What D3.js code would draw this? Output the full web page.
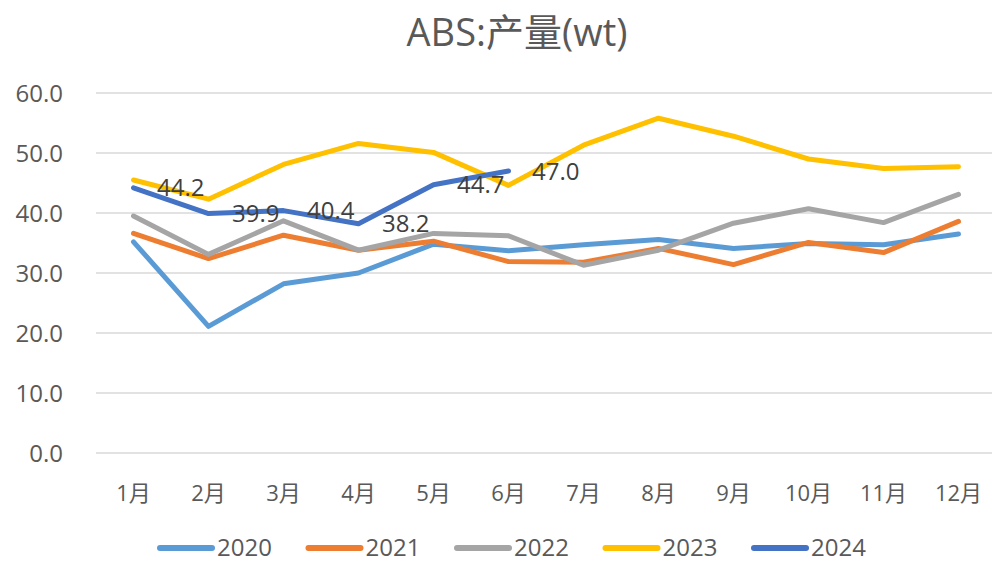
<!DOCTYPE html>
<html><head><meta charset="utf-8">
<script src="https://cdn.jsdelivr.net/npm/d3@7"></script>
<style>
html,body{margin:0;padding:0;background:#fff;}
svg text{font-family:"Open Sans","Noto Sans CJK SC",sans-serif;}
</style></head>
<body><svg id="c" width="992" height="562"></svg>
<script>
const months = ["1月","2月","3月","4月","5月","6月","7月","8月","9月","10月","11月","12月"];
const yTicks = [0,10,20,30,40,50,60];
const years = ["2020","2021","2022","2023","2024"];
const colors = ["#5B9BD5","#ED7D31","#A5A5A5","#FFC000","#4472C4"];
const v2020 = [35.2,21.1,28.2,30.0,34.8,33.7,34.7,35.6,34.1,34.9,34.7,36.5];
const v2021 = [36.6,32.4,36.3,33.8,35.3,31.9,31.8,34.1,31.4,35.1,33.4,38.6];
const v2022 = [39.5,33.1,38.7,33.8,36.6,36.2,31.3,33.8,38.3,40.7,38.4,43.1];
const v2023 = [45.5,42.3,48.1,51.6,50.1,44.6,51.3,55.8,52.8,49.0,47.4,47.7];
const v2024 = [44.2,39.9,40.4,38.2,44.7,47.0];
const series = [v2020,v2021,v2022,v2023,v2024];
const title = "ABS:产量(wt)";

const svg = d3.select("#c");
const x = d3.scaleBand().domain(months).range([96,996]);
const y = d3.scaleLinear().domain([0,60]).range([453,93]);
const cx = m => x(m) + x.bandwidth()/2;

// gridlines
svg.append("g").selectAll("line").data(yTicks).join("line")
  .attr("x1",96).attr("x2",992).attr("y1",d=>y(d)).attr("y2",d=>y(d))
  .attr("stroke","#d9d9d9").attr("stroke-width",1.5);

// y labels
svg.append("g").selectAll("text").data(yTicks).join("text")
  .attr("x",63).attr("y",d=>y(d)).attr("dy","0.36em").attr("text-anchor","end")
  .attr("font-size",24).attr("fill","#595959").text(d=>d.toFixed(1));

// x labels
svg.append("g").selectAll("text").data(months).join("text")
  .attr("x",d=>cx(d)).attr("y",501).attr("text-anchor","middle")
  .attr("font-size",22).attr("fill","#595959").text(d=>d);

// lines
const line = d3.line().x((d,i)=>cx(months[i])).y(d=>y(d));
series.forEach((s,k)=>{
  svg.append("path").datum(s).attr("d",line).attr("fill","none")
    .attr("stroke",colors[k]).attr("stroke-width",5)
    .attr("stroke-linejoin","round").attr("stroke-linecap","round");
});

// data labels for 2024
svg.append("g").selectAll("text").data(v2024).join("text")
  .attr("x",(d,i)=>cx(months[i])+23.5).attr("y",d=>y(d)).attr("dy","0.36em")
  .attr("font-size",24).attr("fill","#404040").text(d=>d.toFixed(1));

// title
svg.append("text").attr("x",517).attr("y",46).attr("text-anchor","middle")
  .attr("font-size",38).attr("fill","#595959").text(title);

// legend
const lg = svg.append("g").selectAll("g").data(years).join("g")
  .attr("transform",(d,i)=>`translate(${160+i*148.5},548)`);
lg.append("line").attr("x1",0).attr("x2",52).attr("y1",0).attr("y2",0)
  .attr("stroke",(d,i)=>colors[i]).attr("stroke-width",6).attr("stroke-linecap","round");
lg.append("text").attr("x",57).attr("y",7.5)
  .attr("font-size",24).attr("fill","#595959").text(d=>d);
</script></body></html>
